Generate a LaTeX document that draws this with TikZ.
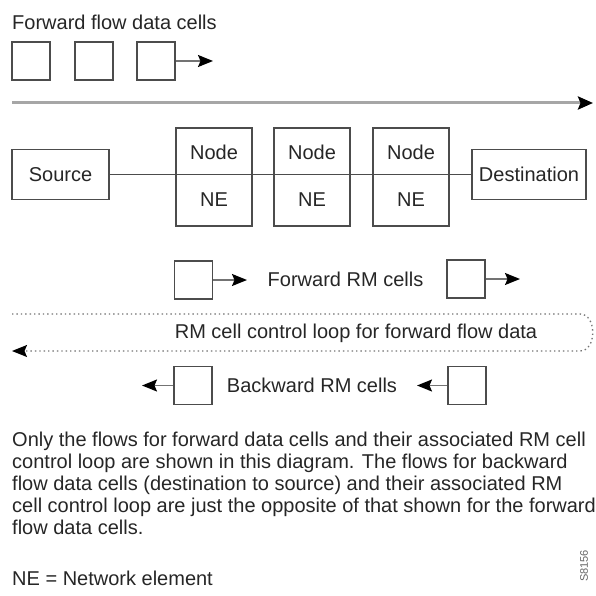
\documentclass[tikz,border=0pt]{standalone}
\usepackage{fontspec}
\setmainfont{Liberation Sans}
\usetikzlibrary{arrows.meta}
\usetikzlibrary{calc}
\usetikzlibrary{positioning}

\tikzset{
  cellbox/.style={draw=black!70, line width=1.1pt, minimum width=38pt, minimum height=38pt, inner sep=0pt},
  nebox/.style={draw=black!70, line width=1.1pt, minimum width=76pt, minimum height=98pt, inner sep=0pt},
  endbox/.style={draw=black!70, line width=1.1pt, minimum height=50pt, inner sep=0pt},
  cellarrow/.style={draw=black!55, line width=1.5pt, -{Stealth[black,length=15pt,width=12pt,inset=2.5pt]}},
  loopline/.style={draw=black!55, line width=1.3pt, dash pattern=on 1.4pt off 3pt, -{Stealth[black,length=15pt,width=12pt,inset=2.5pt]}},
  lbl/.style={text=black!85, font=\fontsize{20}{22}\selectfont},
}

\begin{document}
\begin{tikzpicture}[x=1pt,y=-1pt]
    \useasboundingbox (0,0) rectangle (595,596);

    % Forward flow data cells
    \node[lbl, anchor=base west, inner sep=0pt] (title) at (12,30) {Forward flow data cells};%
    \node[cellbox] (d1) at (31,61) {};%
    \node[cellbox] (d2) at (94,61) {};%
    \node[cellbox] (d3) at (156,61) {};%
    \coordinate (d3tip) at (213,61);%
    \draw[cellarrow] (d3) -- (d3tip);%

    % Flow direction
    \coordinate (flowA) at (12,103);%
    \coordinate (flowB) at (593,103);%
    \draw[black!35, line width=3pt, -{Stealth[black,length=15pt,width=13pt,inset=2.5pt]}] (flowA) -- (flowB);%

    % Source, network elements, destination
    \node[endbox, lbl, minimum width=97pt] (src) at (60.5,174.5) {Source};%
    \node[endbox, lbl, minimum width=114pt] (dst) at (529,174.5) {Destination};%
    \foreach \i/\x in {1/214,2/312,3/411} {%
      \node[nebox] (ne\i) at (\x,177) {};%
      \node[lbl] (ne\i top) at (\x,152) {Node};%
      \node[lbl] (ne\i bot) at (\x,200) {NE};%
    }
    \draw[black!70, line width=1.1pt] (src.east) -- (dst.west);% % runs through the NE boxes

    % Forward RM cells
    \node[cellbox] (f1) at (193.5,280) {};%
    \coordinate (f1tip) at (247,280);%
    \draw[cellarrow] (f1) -- (f1tip);%
    \node[lbl] (fwdrm) at (345.5,279) {Forward RM cells};%
    \node[cellbox] (f2) at (466,279) {};%
    \coordinate (f2tip) at (520,279);%
    \draw[cellarrow] (f2) -- (f2tip);%

    % Control loop
    \coordinate (loopA) at (12,314);%
    \coordinate (loopB) at (580,314);%
    \coordinate (loopC) at (580,351);%
    \coordinate (loopD) at (12,351);%
    \draw[loopline] (loopA) -- (loopB) .. controls (597,314) and (597,351) .. (loopC) -- (loopD);%
    \node[lbl] (looptext) at (356,333) {RM cell control loop for forward flow data};%

    % Backward RM cells
    \node[cellbox] (b1) at (193,385.5) {};%
    \coordinate (b1tip) at (142,385.5);%
    \draw[cellarrow] (b1) -- (b1tip);%
    \node[lbl] (bwdrm) at (312,385) {Backward RM cells};%
    \node[cellbox] (b2) at (467,385.5) {};%
    \coordinate (b2tip) at (417,385.5);%
    \draw[cellarrow] (b2) -- (b2tip);%

    % Notes
    \foreach \t [count=\i] in {Only the flows for forward data cells and their associated RM cell,
        control loop are shown in this diagram. The flows for backward,
        flow data cells (destination to source) and their associated RM,
        cell control loop are just the opposite of that shown for the forward,
        flow data cells.}
      \node[lbl, anchor=base west, inner sep=0pt] (note\i) at (12,{424+22*\i}) {\t};%
    \node[lbl, anchor=base west, inner sep=0pt] (legend) at (12,585) {NE = Network element};%
    \node[rotate=90, text=black!60, font=\fontsize{11}{13}\selectfont] (figid) at (584,566) {S8156};%
\end{tikzpicture}
\end{document}
